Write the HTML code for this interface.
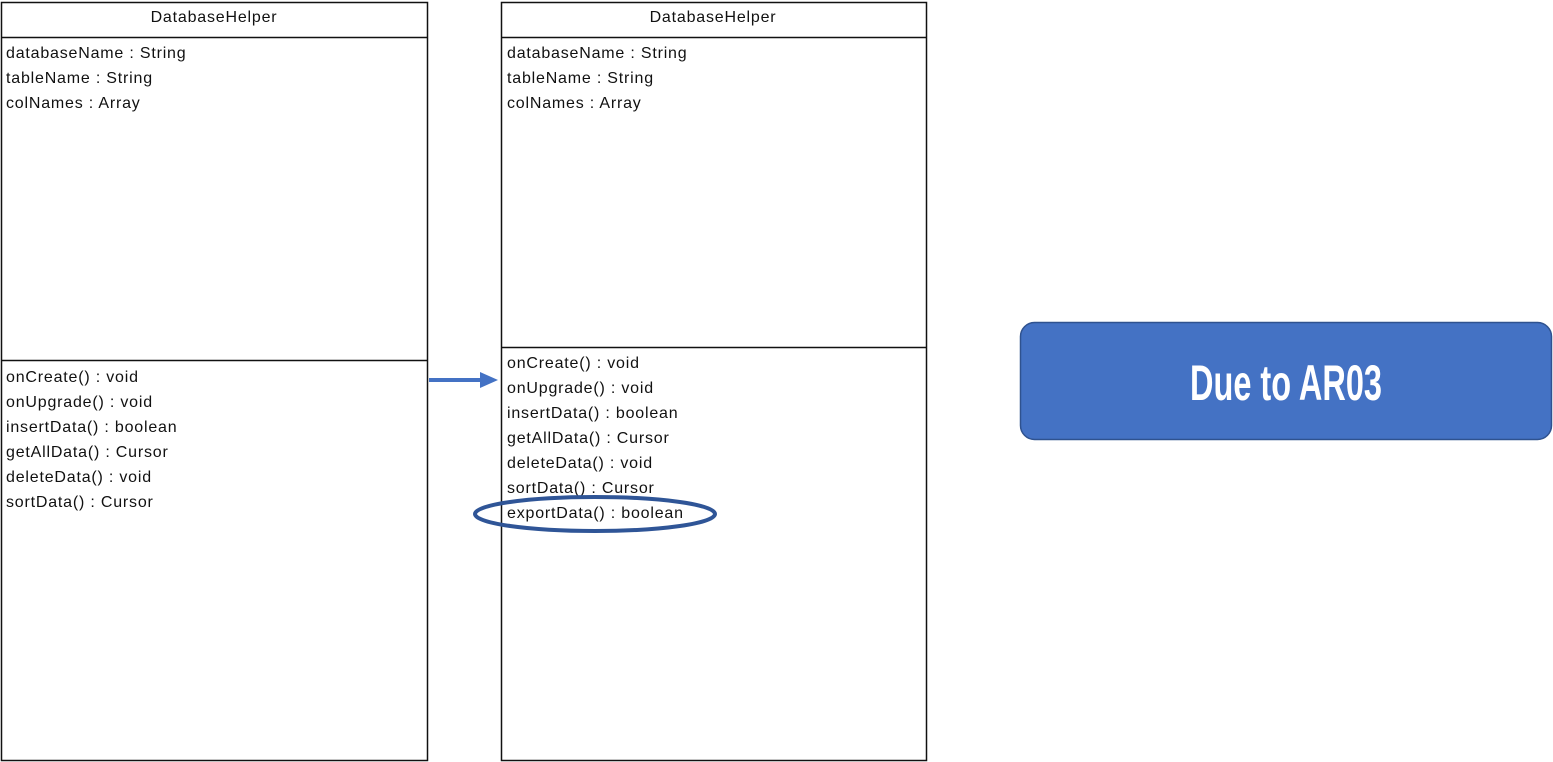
<!DOCTYPE html>
<html><head><meta charset="utf-8"><style>
html,body{margin:0;padding:0;background:#fff;width:1553px;height:762px;overflow:hidden}
svg{display:block}
text{font-family:"Liberation Sans",Arial,sans-serif;font-size:16px;fill:#111;letter-spacing:0.8px}
</style></head><body>
<svg width="1553" height="762" viewBox="0 0 1553 762" xmlns="http://www.w3.org/2000/svg">
<!-- left class -->
<rect x="1.5" y="2.5" width="426" height="758" fill="#fff" stroke="#111" stroke-width="1.5"/>
<line x1="1" y1="37.5" x2="428" y2="37.5" stroke="#111" stroke-width="1.5"/>
<line x1="1" y1="360.5" x2="428" y2="360.5" stroke="#111" stroke-width="1.5"/>
<text x="214" y="22" text-anchor="middle">DatabaseHelper</text>
<text x="6" y="58">databaseName : String</text>
<text x="6" y="83">tableName : String</text>
<text x="6" y="108">colNames : Array</text>
<text x="6" y="382">onCreate() : void</text>
<text x="6" y="407">onUpgrade() : void</text>
<text x="6" y="432">insertData() : boolean</text>
<text x="6" y="457">getAllData() : Cursor</text>
<text x="6" y="482">deleteData() : void</text>
<text x="6" y="507">sortData() : Cursor</text>

<!-- right class -->
<rect x="501.5" y="2.5" width="425" height="758" fill="#fff" stroke="#111" stroke-width="1.5"/>
<line x1="501" y1="37.5" x2="927" y2="37.5" stroke="#111" stroke-width="1.5"/>
<line x1="501" y1="347.5" x2="927" y2="347.5" stroke="#111" stroke-width="1.5"/>
<text x="713" y="22" text-anchor="middle">DatabaseHelper</text>
<text x="507" y="58">databaseName : String</text>
<text x="507" y="83">tableName : String</text>
<text x="507" y="108">colNames : Array</text>
<text x="507" y="368">onCreate() : void</text>
<text x="507" y="393">onUpgrade() : void</text>
<text x="507" y="418">insertData() : boolean</text>
<text x="507" y="443">getAllData() : Cursor</text>
<text x="507" y="468">deleteData() : void</text>
<text x="507" y="493">sortData() : Cursor</text>
<text x="507" y="518">exportData() : boolean</text>
<ellipse cx="595" cy="514" rx="120" ry="17" fill="none" stroke="#2F5597" stroke-width="4"/>

<!-- arrow -->
<line x1="429" y1="380" x2="482" y2="380" stroke="#4472C4" stroke-width="4"/>
<polygon points="480,372 498,380 480,388" fill="#4472C4"/>

<!-- note box -->
<rect x="1020.5" y="322.5" width="531" height="117" rx="14" fill="#4472C4" stroke="#2F528F" stroke-width="1.5"/>
<text transform="translate(1286,400) scale(0.65,1)" text-anchor="middle" style="font-weight:bold;font-size:50px;fill:#fff;letter-spacing:0">Due to AR03</text>
</svg>
</body></html>
